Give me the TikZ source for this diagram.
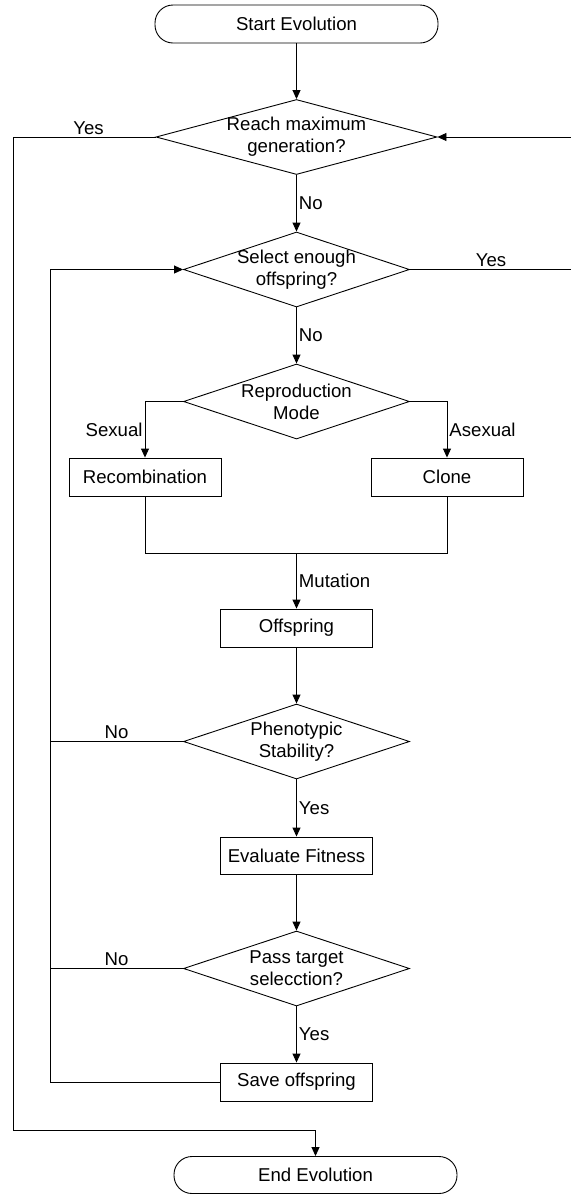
\documentclass[tikz,border=0pt]{standalone}
\usepackage{fontspec}
\setmainfont{Liberation Sans}
\usetikzlibrary{shapes.geometric,arrows.meta}
\begin{document}
\begin{tikzpicture}[x=1bp,y=-1bp,
  every node/.style={font=\fontsize{18.6bp}{22bp}\selectfont},
  line/.style={draw=black,line width=0.9bp},
  arr/.style={line,-{Triangle[length=9bp,width=8bp]}},
  term/.style={line,rectangle,rounded corners=18bp,minimum width=283bp,minimum height=38bp,inner sep=0pt},
  proc/.style={line,rectangle,minimum width=152bp,minimum height=38bp,inner sep=0pt},
  dec/.style={line,diamond,inner sep=0pt,minimum height=75bp},
  lab/.style={inner sep=2bp}]
\useasboundingbox (0,0) rectangle (571,1196);
\node[term] (start) at (296.5,24) {Start Evolution};
\node[dec,minimum width=281bp,label={[align=center]center:Reach maximum\\generation?}] (d1) at (296.5,137) {};
\node[dec,minimum width=226bp,label={[align=center]center:Select enough\\offspring?}] (d2) at (296.5,269.5) {};
\node[dec,minimum width=226bp,label={[align=center]center:Reproduction\\Mode}] (d3) at (296.5,401.5) {};
\node[proc] (recomb) at (145,477) {Recombination};
\node[proc] (clone) at (447,477) {Clone};
\coordinate (j) at (296.5,553);
\node[proc] (offs) at (296.5,628) {Offspring};
\node[dec,minimum width=226bp,label={[align=center]center:Phenotypic\\Stability?}] (d4) at (296.5,741.5) {};
\node[proc,minimum height=37bp] (eval) at (296.5,855.5) {Evaluate Fitness};
\node[dec,minimum width=226bp,label={[align=center]center:Pass target\\selecction?}] (d5) at (296.5,968.5) {};
\node[proc] (save) at (296.5,1082) {Save offspring};
\node[term,minimum height=37bp] (end) at (315.5,1175) {End Evolution};
\coordinate (xL) at (50,0);
\coordinate (xO) at (13,0);
\coordinate (xR) at (572,0);
\coordinate (yO) at (0,1130);

\draw[arr] (start) -- (d1);
\draw[arr] (d1) -- node[right,lab]{No} (d2);
\draw[arr] (d2) -- node[right,lab]{No} (d3);
\draw[arr] (d3.west) -| node[pos=0.75,left,lab]{Sexual} (recomb.north);
\draw[arr] (d3.east) -| node[pos=0.75,right,lab]{Asexual} (clone.north);
\draw[line] (recomb.south) -- (recomb.south |- j) -- (clone.south |- j) -- (clone.south);
\draw[arr] (j) -- node[right,lab]{Mutation} (offs);
\draw[arr] (offs) -- (d4);
\draw[arr] (d4) -- node[right,lab]{Yes} (eval);
\draw[arr] (eval) -- (d5);
\draw[arr] (d5) -- node[right,lab]{Yes} (save);
\draw[arr] (save.west) -- (save.west -| xL) -- (d2.west -| xL) -- (d2.west);
\draw[line] (d4.west) -- node[above,lab]{No} (d4.west -| xL);
\draw[line] (d5.west) -- node[above,lab]{No} (d5.west -| xL);
\draw[arr] (d1.west) -- node[above,lab,pos=0.47]{Yes} (d1.west -| xO) -- (xO |- yO) -- (end.north |- yO) -- (end.north);
\draw[arr] (d2.east) -- node[above,lab]{Yes} (d2.east -| xR) -- (d1.east -| xR) -- (d1.east);
\end{tikzpicture}
\end{document}
